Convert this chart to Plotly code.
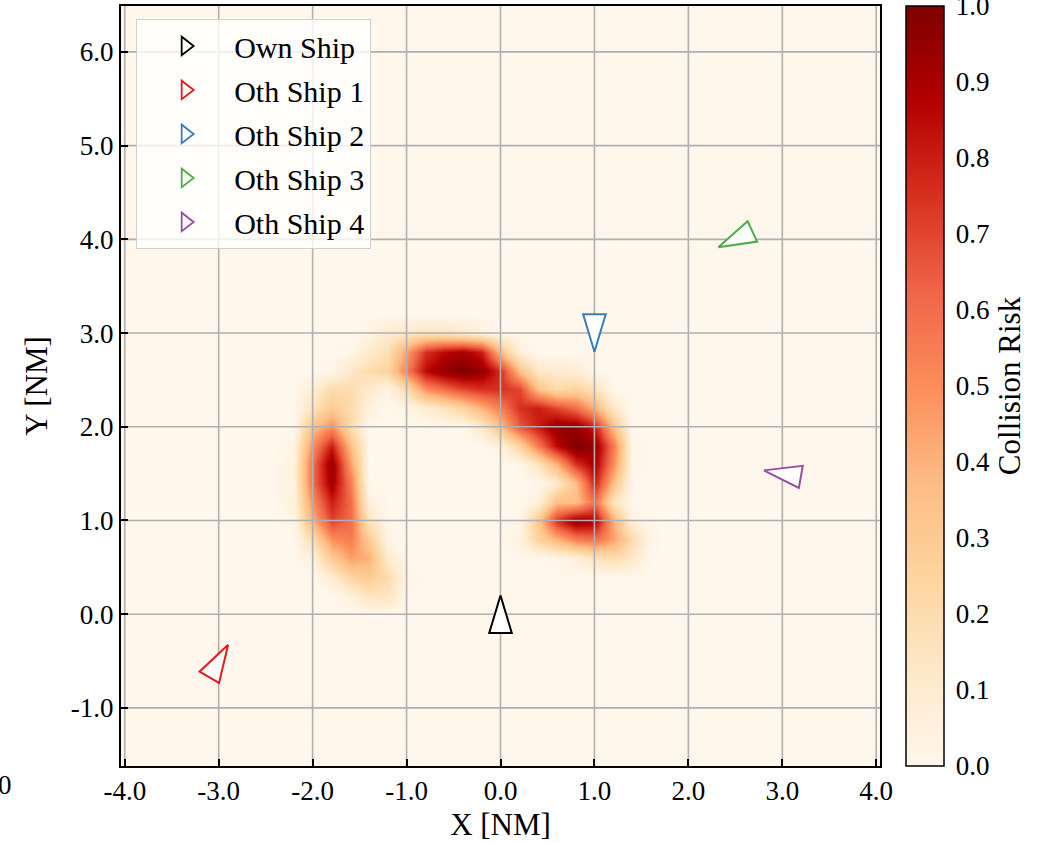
import numpy as np
import plotly.graph_objects as go

FONT = "Liberation Serif, Times New Roman, serif"

# ---------------- data ----------------
# collision-risk field (grid nodes, NM)
risk_x = [-2.4, -2.2, -2.0, -1.8, -1.6, -1.4, -1.2, -1.0, -0.8, -0.6, -0.4,
          -0.2, 0.0, 0.2, 0.4, 0.6, 0.8, 1.0, 1.2, 1.4, 1.6]
risk_y = [0.0, 0.2, 0.4, 0.6, 0.8, 1.0, 1.2, 1.4, 1.6, 1.8, 2.0, 2.2, 2.4,
          2.6, 2.8, 3.0, 3.2]
risk_z = [
    # y = 0.0
    [0, 0, 0, 0, 0, 0, 0, 0, 0, 0, 0, 0, 0, 0, 0, 0, 0, 0, 0, 0, 0],
    # y = 0.2
    [0, 0, 0, 0, 0.05, 0.15, 0.15, 0, 0, 0, 0, 0, 0, 0, 0, 0, 0, 0, 0, 0, 0],
    # y = 0.4
    [0, 0, 0, 0.08, 0.25, 0.30, 0.20, 0.02, 0, 0, 0, 0, 0, 0, 0, 0, 0, 0, 0, 0, 0],
    # y = 0.6
    [0, 0, 0.05, 0.30, 0.45, 0.40, 0.10, 0, 0, 0, 0, 0, 0, 0, 0, 0.02, 0.05, 0.15, 0.20, 0.12, 0],
    # y = 0.8
    [0, 0, 0.20, 0.50, 0.55, 0.30, 0.02, 0, 0, 0, 0, 0, 0, 0.03, 0.25, 0.40, 0.55, 0.60, 0.45, 0.20, 0.02],
    # y = 1.0
    [0, 0.02, 0.40, 0.70, 0.60, 0.15, 0, 0, 0, 0, 0, 0, 0, 0.02, 0.30, 0.75, 0.95, 0.90, 0.40, 0.05, 0],
    # y = 1.2
    [0, 0.05, 0.50, 0.80, 0.60, 0.05, 0, 0, 0, 0, 0, 0, 0, 0, 0.05, 0.35, 0.35, 0.60, 0.15, 0, 0],
    # y = 1.4
    [0, 0.05, 0.60, 0.92, 0.55, 0, 0, 0, 0, 0, 0, 0, 0, 0, 0, 0.10, 0.35, 0.80, 0.35, 0, 0],
    # y = 1.6
    [0, 0.05, 0.60, 0.95, 0.45, 0, 0, 0, 0, 0, 0, 0, 0, 0, 0.15, 0.40, 0.75, 0.90, 0.50, 0.02, 0],
    # y = 1.8
    [0, 0.03, 0.50, 0.80, 0.35, 0, 0, 0, 0, 0, 0, 0, 0.05, 0.25, 0.55, 0.85, 1.00, 0.95, 0.55, 0.02, 0],
    # y = 2.0
    [0, 0, 0.35, 0.50, 0.20, 0, 0, 0, 0, 0, 0, 0.10, 0.35, 0.65, 0.80, 0.95, 0.95, 0.80, 0.35, 0, 0],
    # y = 2.2
    [0, 0, 0.15, 0.30, 0.20, 0.05, 0, 0.02, 0.08, 0.15, 0.25, 0.40, 0.55, 0.75, 0.80, 0.70, 0.60, 0.40, 0.10, 0, 0],
    # y = 2.4
    [0, 0, 0.08, 0.20, 0.20, 0.10, 0.03, 0.20, 0.50, 0.60, 0.70, 0.75, 0.75, 0.70, 0.35, 0.20, 0.25, 0.15, 0, 0, 0],
    # y = 2.6
    [0, 0, 0, 0.02, 0.12, 0.20, 0.25, 0.55, 0.85, 0.95, 1.00, 0.95, 0.75, 0.35, 0.12, 0.10, 0.08, 0, 0, 0, 0],
    # y = 2.8
    [0, 0, 0, 0, 0.02, 0.10, 0.18, 0.45, 0.75, 0.85, 0.90, 0.80, 0.35, 0.05, 0, 0, 0, 0, 0, 0, 0],
    # y = 3.0
    [0, 0, 0, 0, 0, 0.03, 0.10, 0.12, 0.15, 0.15, 0.10, 0.05, 0, 0, 0, 0, 0, 0, 0, 0, 0],
    # y = 3.2
    [0, 0, 0, 0, 0, 0, 0, 0, 0, 0, 0, 0, 0, 0, 0, 0, 0, 0, 0, 0, 0],
]

# ships
ship_names = ["Own Ship", "Oth Ship 1", "Oth Ship 2", "Oth Ship 3", "Oth Ship 4"]
ship_x = [0.0, -3.0, 1.0, 2.5, 3.0]
ship_y = [0.0, -0.5, 3.0, 4.0, 1.5]
ship_heading = [0.0, 30.0, 180.0, 245.0, 280.0]   # deg, clockwise from north
ship_colors = ["#000000", "#e41a1c", "#377eb8", "#4daf4a", "#984ea3"]

# axes
x_ticks = [-4, -3, -2, -1, 0, 1, 2, 3, 4]
x_tick_labels = ["-4.0", "-3.0", "-2.0", "-1.0", "0.0", "1.0", "2.0", "3.0", "4.0"]
y_ticks = [-1, 0, 1, 2, 3, 4, 5, 6]
y_tick_labels = ["-1.0", "0.0", "1.0", "2.0", "3.0", "4.0", "5.0", "6.0"]
cbar_ticks = [0.0, 0.1, 0.2, 0.3, 0.4, 0.5, 0.6, 0.7, 0.8, 0.9, 1.0]
cbar_labels = ["0.0", "0.1", "0.2", "0.3", "0.4", "0.5", "0.6", "0.7", "0.8", "0.9", "1.0"]

# ---------------- styles ----------------
x_range = [-4.04, 4.04]
y_range = [-1.62, 6.49]
SHIP_LEN = 0.40
SHIP_WID = 0.24
hull_local = [(0.0, SHIP_LEN / 2), (-SHIP_WID / 2, -SHIP_LEN / 2),
              (SHIP_WID / 2, -SHIP_LEN / 2), (0.0, SHIP_LEN / 2)]

fig = go.Figure()

fig.add_trace(go.Heatmap(
    x=risk_x, y=risk_y, z=risk_z, zmin=0, zmax=1.0, colorscale="OrRd",
    zsmooth="best", hoverinfo="skip", showlegend=False,
    colorbar=dict(
        x=1.0343, xanchor="left", y=0.5, yanchor="middle",
        len=1.0, lenmode="fraction", thickness=38, thicknessmode="pixels",
        xpad=0, ypad=0, outlinewidth=1.5, outlinecolor="black",
        tickmode="array", tickvals=cbar_ticks, ticktext=cbar_labels,
        ticks="outside", ticklen=6, tickcolor="rgba(0,0,0,0)",
        ticklabeloverflow="allow",
        tickfont=dict(family=FONT, size=27, color="black"),
        title=dict(text="Collision Risk", side="right",
                   font=dict(family=FONT, size=31, color="black")),
    ),
))

# grid lines (drawn above the risk field)
gx, gy = [], []
for t in x_ticks:
    gx += [t, t, None]
    gy += [y_range[0], y_range[1], None]
for t in y_ticks:
    gx += [x_range[0], x_range[1], None]
    gy += [t, t, None]
fig.add_trace(go.Scatter(x=gx, y=gy, mode="lines",
                         line=dict(color="#b0b0b0", width=1.6),
                         hoverinfo="skip", showlegend=False))

# ship hulls
for name, sx, sy, hd, c in zip(ship_names, ship_x, ship_y, ship_heading, ship_colors):
    r = np.deg2rad(hd)
    cs, sn = np.cos(r), np.sin(r)
    px = [sx + lx * cs + ly * sn for lx, ly in hull_local]
    py = [sy - lx * sn + ly * cs for lx, ly in hull_local]
    fig.add_trace(go.Scatter(x=px, y=py, mode="lines", fill="toself",
                             fillcolor="white", line=dict(color=c, width=2),
                             hoverinfo="skip", showlegend=False))

# legend entries
for name, c in zip(ship_names, ship_colors):
    fig.add_trace(go.Scatter(
        x=[None], y=[None], mode="markers", name=name, legendgroup=name,
        marker=dict(symbol="triangle-right-open", size=16, color=c,
                    line=dict(color=c, width=1.8)),
    ))

axis_common = dict(
    showline=True, linecolor="black", linewidth=2, mirror=True,
    ticks="inside", ticklen=7, tickwidth=1.5, tickcolor="black",
    showgrid=False, zeroline=False,
    tickfont=dict(family=FONT, size=27, color="black"),
)

fig.update_layout(
    width=1037, height=843, autosize=False,
    margin=dict(l=121, r=157, t=6, b=77, autoexpand=False),
    paper_bgcolor="white", plot_bgcolor="rgb(255,247,236)",
    font=dict(family=FONT, size=27, color="black"),
    xaxis=dict(range=x_range, tickmode="array", tickvals=x_ticks,
               ticktext=x_tick_labels,
               title=dict(text="X [NM]", font=dict(family=FONT, size=31), standoff=8),
               **axis_common),
    yaxis=dict(range=y_range, tickmode="array", tickvals=y_ticks,
               ticktext=y_tick_labels,
               title=dict(text="Y [NM]", font=dict(family=FONT, size=31), standoff=14),
               **axis_common),
    legend=dict(x=0.02, y=0.983, xanchor="left", yanchor="top",
                bgcolor="rgba(255,255,255,0.8)", bordercolor="#d0d0d0",
                borderwidth=1, tracegroupgap=2, itemwidth=87,
                font=dict(family=FONT, size=30, color="black")),
    annotations=[dict(text="0", xref="paper", yref="paper", x=-0.141, y=-0.025,
                      xanchor="right", yanchor="middle", showarrow=False,
                      font=dict(family=FONT, size=27, color="black"))],
)

fig.write_html("out.html",
               config={"displayModeBar": False},
               post_script="document.body.style.margin='0';document.body.style.padding='0';")
